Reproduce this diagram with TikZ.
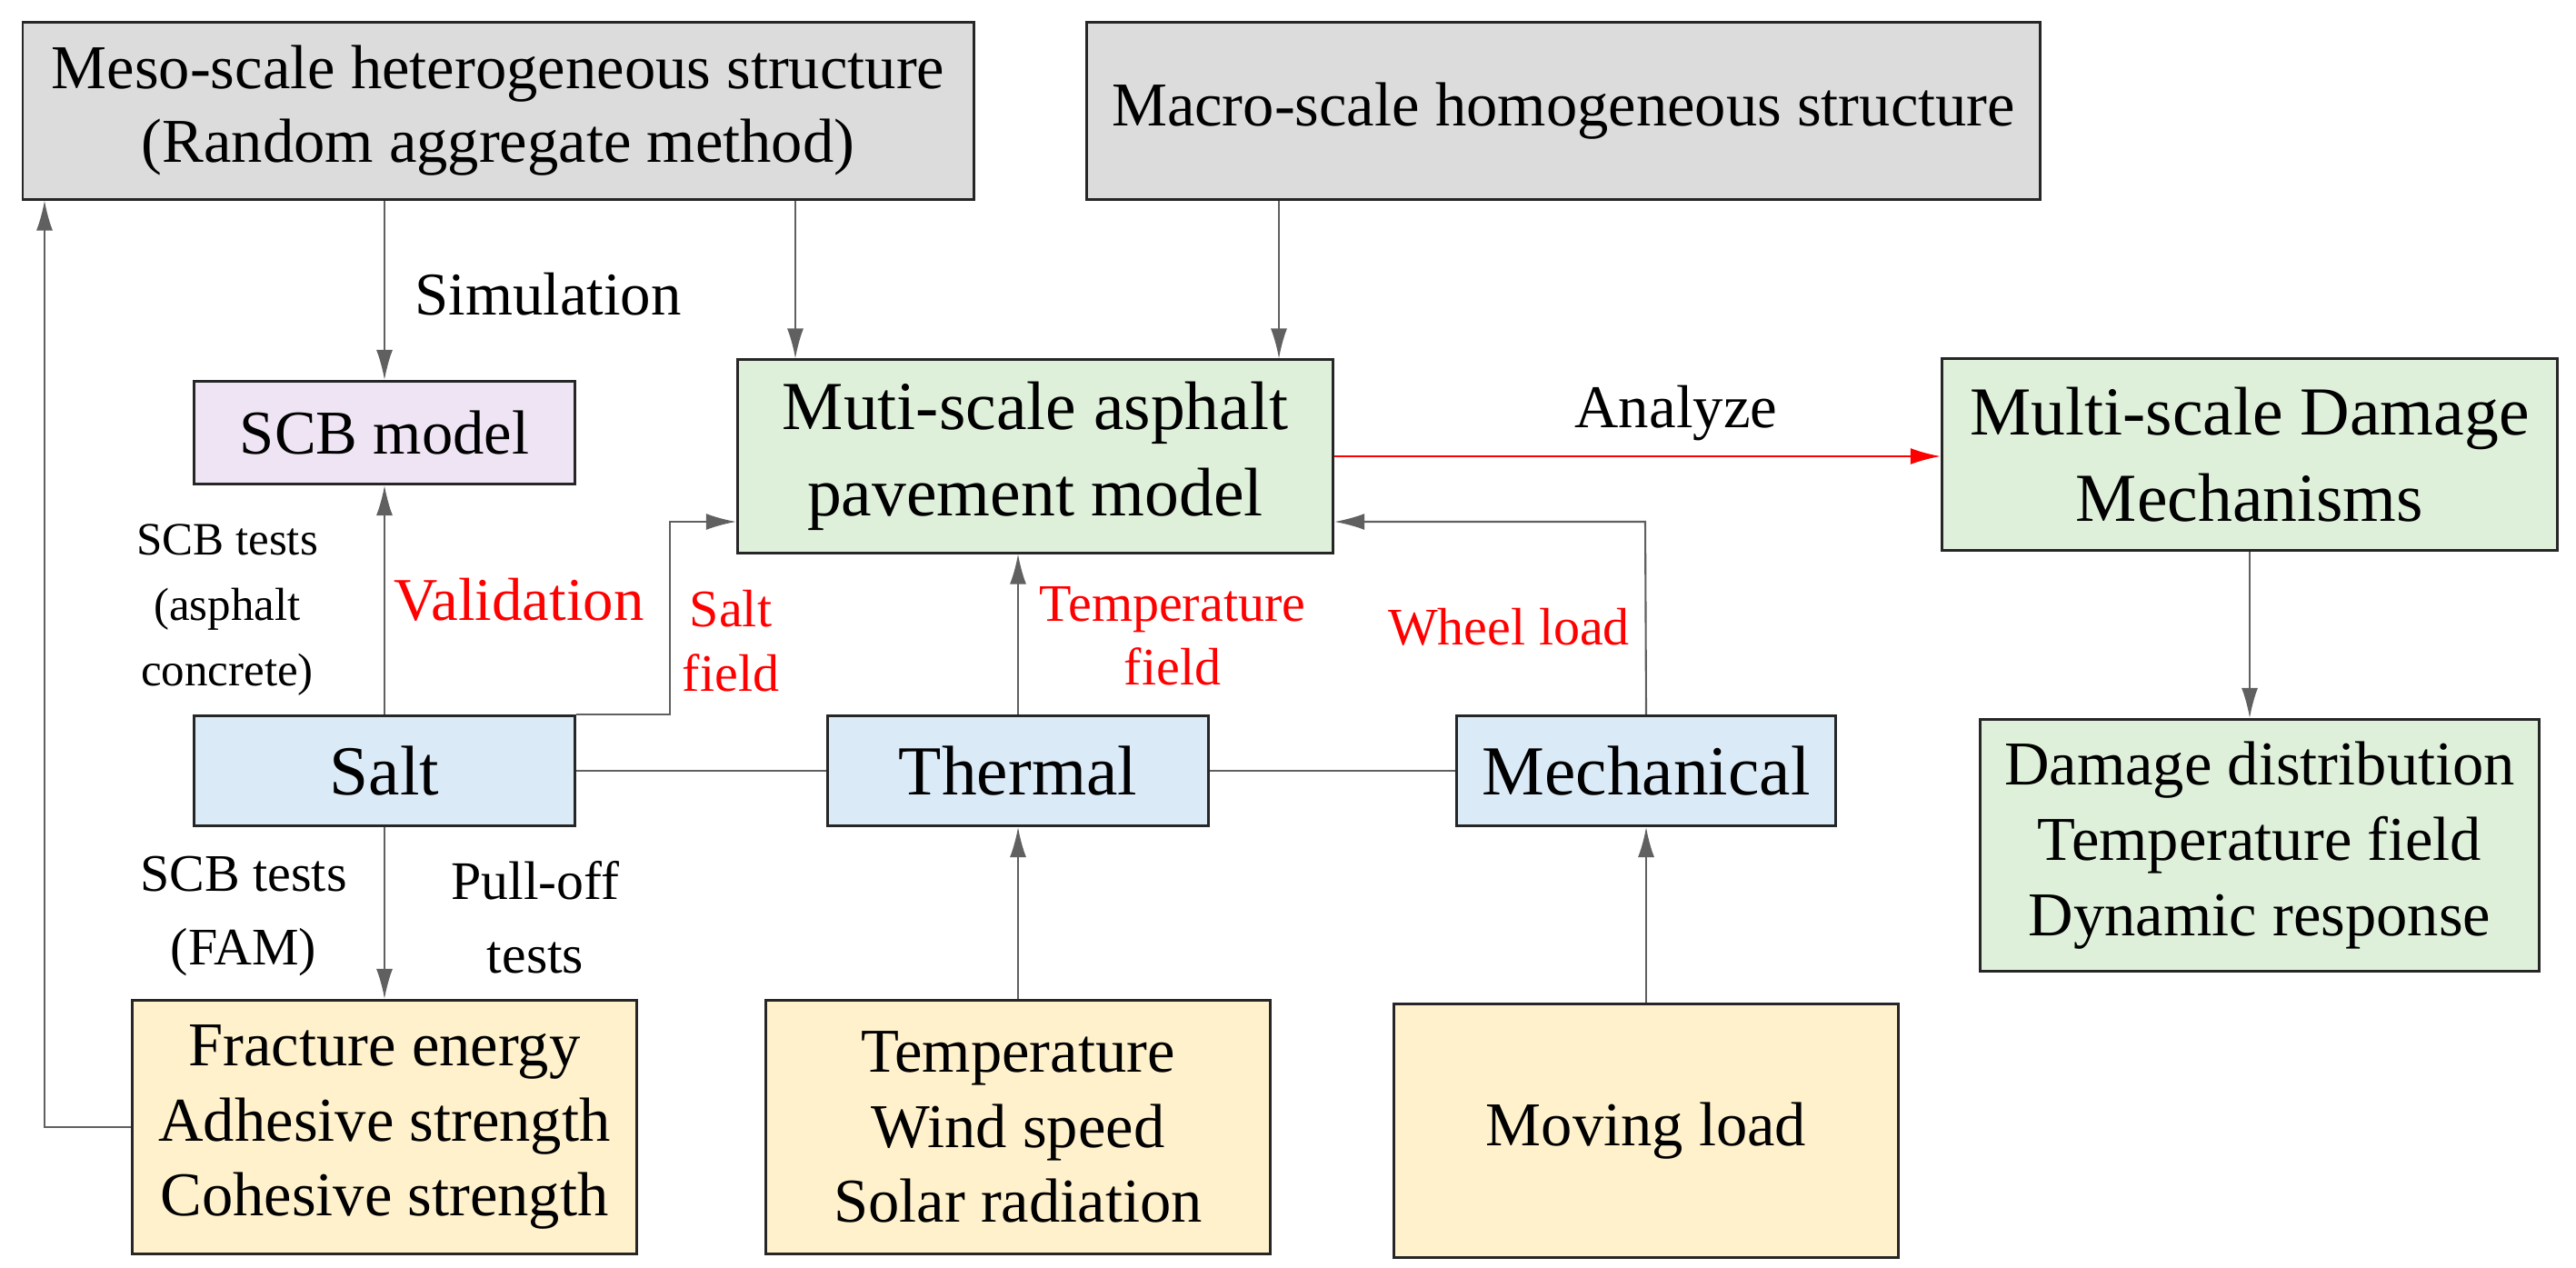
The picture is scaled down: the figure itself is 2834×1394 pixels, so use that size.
\documentclass[tikz,border=0pt]{standalone}
\usepackage{fontspec}
\setmainfont{Liberation Serif}
\usetikzlibrary{arrows.meta}
\definecolor{cgray}{HTML}{DCDCDC}
\definecolor{clav}{HTML}{EEE4F4}
\definecolor{cgreen}{HTML}{DFF0DA}
\definecolor{cblue}{HTML}{DBEAF7}
\definecolor{cyel}{HTML}{FFF1CB}
\definecolor{cline}{HTML}{606060}
\definecolor{cred}{HTML}{FF0000}
\begin{document}
\begin{tikzpicture}[x=0.01cm,y=-0.01cm,
  box/.style={draw=black!85,line width=0.85pt,inner sep=0pt,align=center,font=\fontsize{19.5}{23}\selectfont},
  arr/.style={draw=cline,line width=0.6pt,-{Latex[length=0.33cm,width=0.18cm]}},
  ln/.style={draw=cline,line width=0.6pt},
  lab/.style={align=center,font=\fontsize{19}{23}\selectfont},
  rlab/.style={align=center,text=cred,font=\fontsize{16.5}{20}\selectfont}]
\useasboundingbox (0,0) rectangle (2834,1394);
\node[box,fill=cgray,minimum width=1046*0.01cm,minimum height=1.94cm] (meso) at (548,122) {Meso-scale heterogeneous structure\\(Random aggregate method)};
\node[box,fill=cgray,minimum width=10.48cm,minimum height=1.94cm] (macro) at (1720,122) {Macro-scale homogeneous structure};
\node[box,fill=clav,minimum width=4.18cm,minimum height=1.13cm] (scb) at (423,476) {SCB model};
\node[box,fill=cgreen,minimum width=6.55cm,minimum height=2.12cm,font=\fontsize{21.5}{27}\selectfont] (model) at (1139,502) {Muti-scale asphalt\\pavement model};
\node[box,fill=cgreen,minimum width=6.77cm,minimum height=2.11cm,font=\fontsize{21.5}{27}\selectfont] (damage) at (2475,500) {Multi-scale Damage\\Mechanisms};
\node[box,fill=cblue,minimum width=4.18cm,minimum height=1.21cm,font=\fontsize{22}{26}\selectfont] (salt) at (423,848) {Salt};
\node[box,fill=cblue,minimum width=4.18cm,minimum height=1.21cm,font=\fontsize{22}{26}\selectfont] (thermal) at (1120,848) {Thermal};
\node[box,fill=cblue,minimum width=4.16cm,minimum height=1.21cm,font=\fontsize{22}{26}\selectfont] (mech) at (1811,848) {Mechanical};
\node[box,fill=cgreen,minimum width=6.14cm,minimum height=2.77cm,font=\fontsize{19.5}{23.5}\selectfont] (dist) at (2486,930) {Damage distribution\\Temperature field\\Dynamic response};
\node[box,fill=cyel,minimum width=5.55cm,minimum height=2.79cm,font=\fontsize{19.5}{23.5}\selectfont] (frac) at (423,1240) {Fracture energy\\Adhesive strength\\Cohesive strength};
\node[box,fill=cyel,minimum width=5.55cm,minimum height=2.79cm,font=\fontsize{19.5}{23.5}\selectfont] (temp) at (1120,1240) {Temperature\\Wind speed\\Solar radiation};
\node[box,fill=cyel,minimum width=5.54cm,minimum height=2.78cm] (moving) at (1811,1244) {Moving load};
\coordinate (m1) at (875,300);
\coordinate (m2) at (1407,300);
\coordinate (sf) at (737,574);
\coordinate (wl) at (1810,574);
\coordinate (lp) at (49,1240);
\draw[arr] (meso.south -| scb.north) -- (scb.north);
\draw[arr] (m1 |- meso.south) -- (m1 |- model.north);
\draw[arr] (m2 |- macro.south) -- (m2 |- model.north);
\draw[arr,draw=cred] (model.east) -- (model.east -| damage.west);
\draw[arr] (damage.south |- damage.south) -- (damage.south |- dist.north);
\draw[arr] (salt.north) -- (scb.south);
\draw[arr] (salt.north east) -- (sf |- salt.north) -- (sf) -- (sf -| model.west);
\draw[ln] (salt.east) -- (thermal.west);
\draw[ln] (thermal.east) -- (mech.west);
\draw[arr] (thermal.north) -- (thermal.north |- model.south);
\draw[arr] (mech.north) -- (wl) -- (wl -| model.east);
\draw[arr] (salt.south) -- (frac.north);
\draw[arr] (frac.west) -- (lp) -- (lp |- meso.south);
\draw[arr] (temp.north) -- (thermal.south);
\draw[arr] (moving.north) -- (mech.south);
\node[lab] (lsim) at (603,324) {Simulation};
\node[lab] (lana) at (1844,455) {Analyze};
\node[lab,font=\fontsize{14.5}{20.5}\selectfont] (lscb1) at (250,671) {SCB tests\\(asphalt\\concrete)};
\node[lab,text=cred] (lval) at (571,660) {Validation};
\node[rlab] (lsalt) at (804,705) {Salt\\field};
\node[rlab] (ltemp) at (1290,700) {Temperature\\field};
\node[rlab] (lwheel) at (1660,690) {Wheel load};
\node[lab,font=\fontsize{16.5}{23}\selectfont] (lscb2) at (268,1008) {SCB tests\\(FAM)};
\node[lab,font=\fontsize{17}{23}\selectfont] (lpull) at (589,1009) {Pull-off\\tests};
\end{tikzpicture}
\end{document}
